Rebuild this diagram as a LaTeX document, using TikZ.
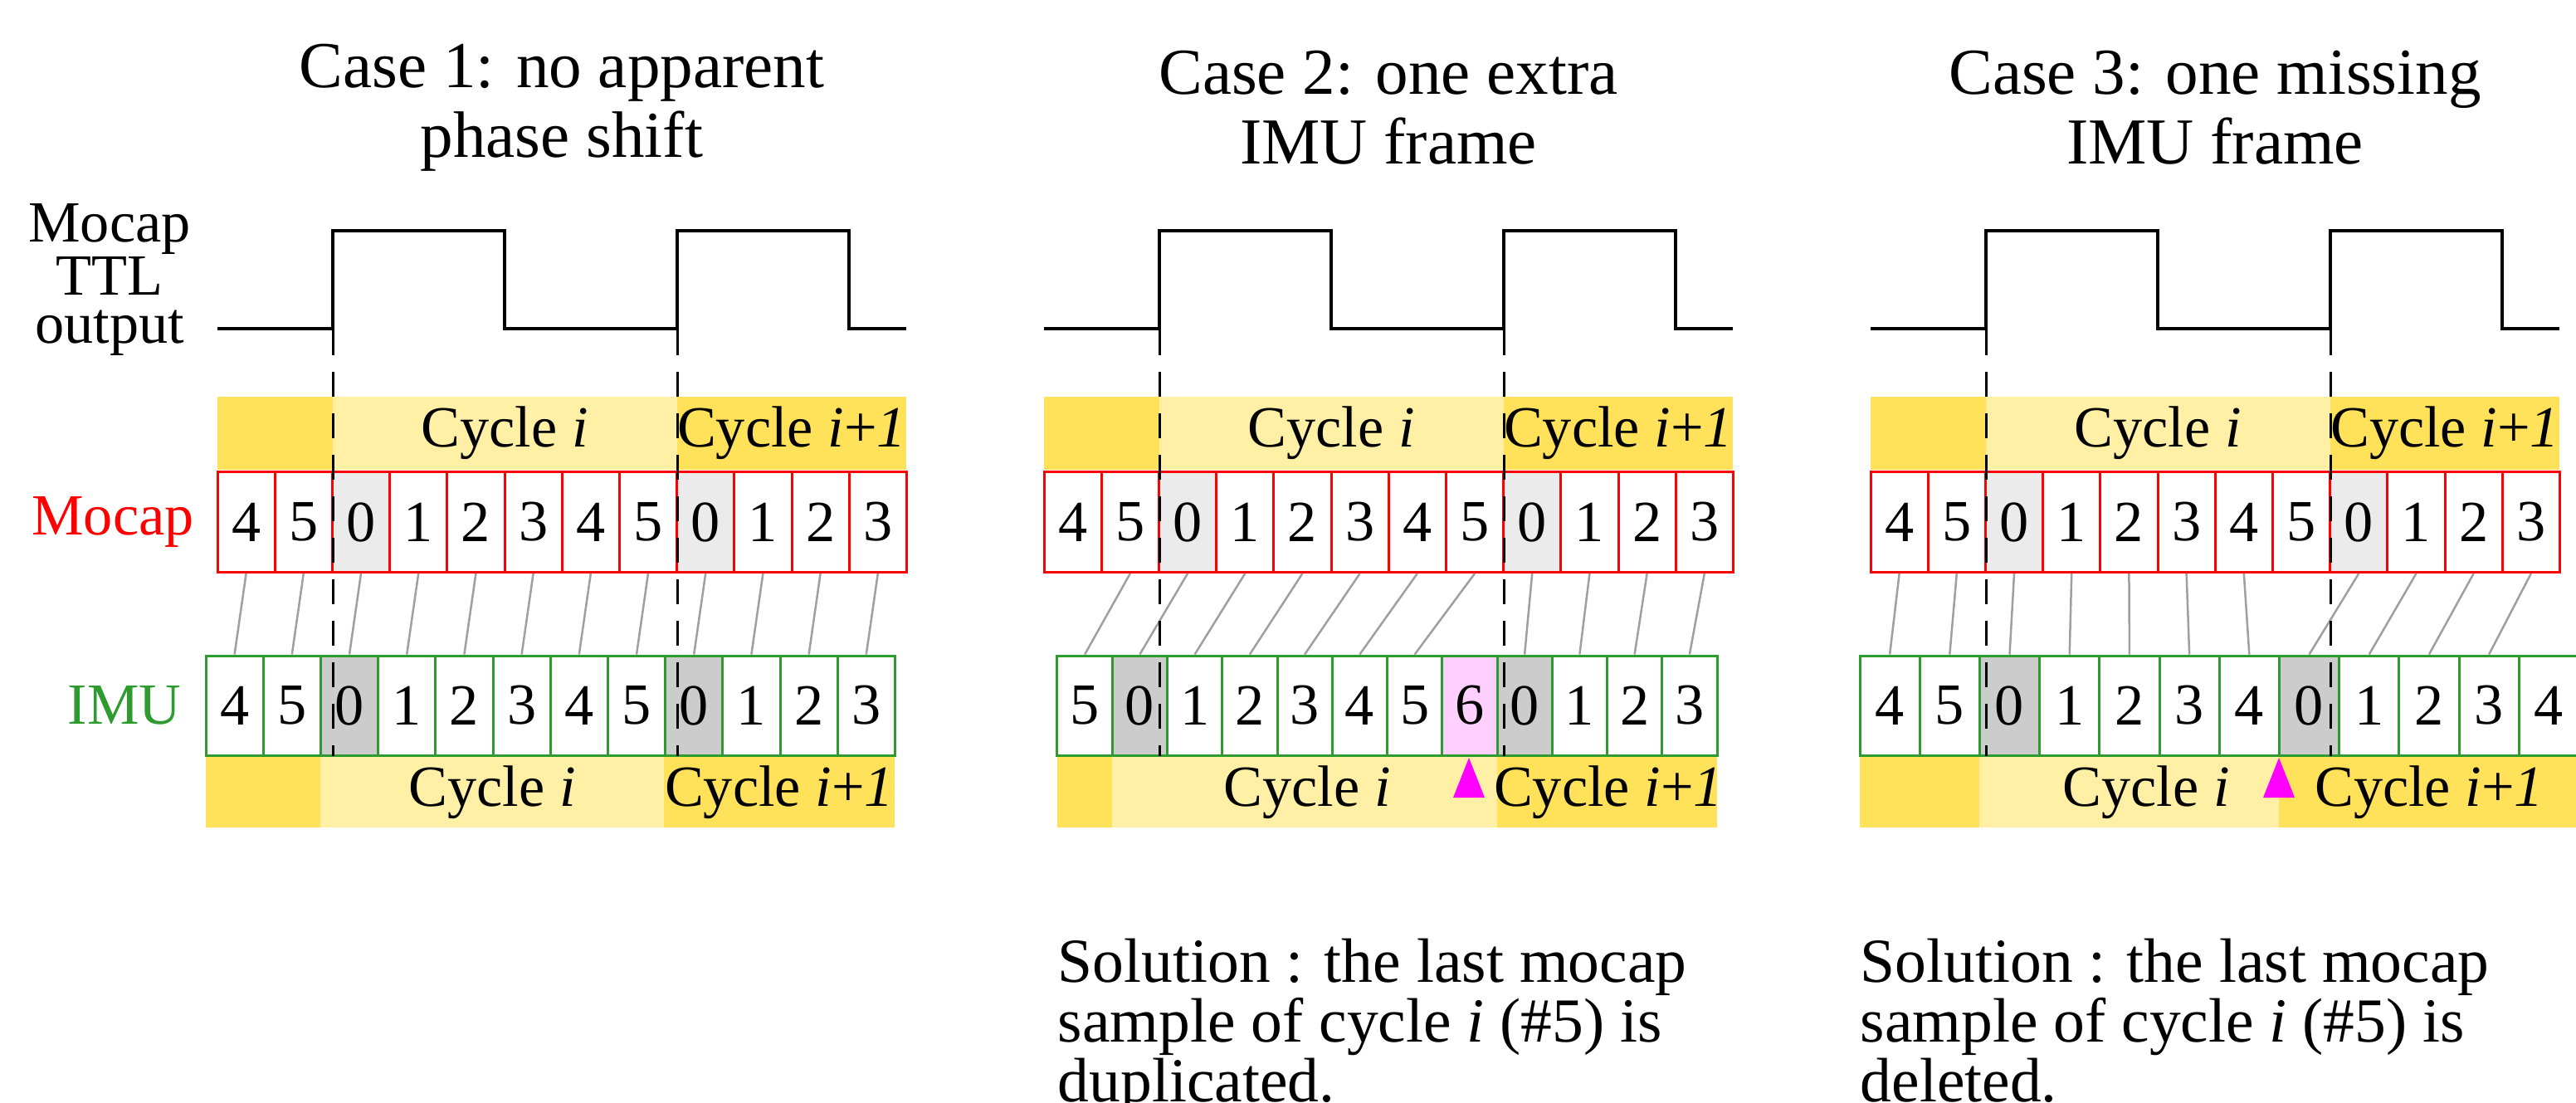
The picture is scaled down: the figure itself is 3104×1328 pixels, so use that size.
\documentclass[tikz,border=0pt]{standalone}
\usepackage{fontspec}
\setmainfont{Liberation Serif}
\definecolor{dy}{HTML}{FFE15A}
\definecolor{ly}{HTML}{FFF0A6}
\definecolor{mred}{HTML}{FF0000}
\definecolor{igreen}{HTML}{2E9B2E}
\definecolor{mg}{HTML}{EBEBEB}
\definecolor{ig}{HTML}{CCCCCC}
\definecolor{pk}{HTML}{FFD0FF}
\definecolor{mag}{HTML}{FF00FF}
\tikzset{
  fs/.style={font=\fontsize{20}{22}\selectfont},
  mcell/.style={draw=mred,line width=0.3mm,minimum width=6.92mm,minimum height=12.1mm,inner sep=0pt,fs},
  icell/.style={draw=igreen,line width=0.3mm,minimum height=12.0mm,inner sep=0pt,fs},
  link/.style={draw=gray!75,line width=0.25mm},
  ttldash/.style={line width=0.3mm,dash pattern=on 3mm off 2mm},
  sig/.style={line width=0.35mm,line join=miter},
  title/.style={font=\fontsize{22.5}{24}\selectfont,align=center},
  lab/.style={fs,inner sep=0pt},
  sol/.style={anchor=north west,align=left,inner sep=0pt,font=\fontsize{21.5}{20.5}\selectfont},
}
\newcommand{\cyc}{Cycle \textit{i}}
\newcommand{\cycn}{Cycle \textit{i}+\textit{1}}
\begin{document}
\begin{tikzpicture}[x=0.1mm,y=-0.1mm]
\useasboundingbox (0,0) rectangle (3104,1328);
\node[lab,align=center,font=\fontsize{20}{16.5}\selectfont] (ttl) at (132,337) {Mocap\\TTL\\output};
\node[lab,text=mred] (lm) at (136,629) {Mocap};
\node[lab,text=igreen] (li) at (150,850) {IMU};
\foreach \c/\xo in {1/262, 2/1258, 3/2254}{
  \draw[sig] (\xo,396) -- (\xo+139,396) -- (\xo+139,278) -- (\xo+346,278) -- (\xo+346,396)
     -- (\xo+554,396) -- (\xo+554,278) -- (\xo+761,278) -- (\xo+761,396) -- (\xo+830,396);
  \fill[dy] (\xo,478) rectangle (\xo+139,566);
  \fill[ly] (\xo+139,478) rectangle (\xo+554,566);
  \fill[dy] (\xo+554,478) rectangle (\xo+830,566);
  \node[lab] (tc\c) at (\xo+346,522) {\cyc};
  \node[lab] (tn\c) at (\xo+692,522) {\cycn};
}
\node[title] (t1) at (677,130) {Case 1: no apparent\\phase shift};
\node[title] (t2) at (1673,130) {Case 2: one extra\\IMU frame};
\node[title] (t3) at (2669,130) {Case 3: one missing\\IMU frame};
\fill[dy] (248,910) rectangle (386,997);
\fill[ly] (386,910) rectangle (800,997);
\fill[dy] (800,910) rectangle (1078,997);
\node[lab] (b1a) at (593,955) {\cyc};
\node[lab] (b1b) at (939,955) {\cycn};
\fill[dy] (1274,910) rectangle (1340,997);
\fill[ly] (1340,910) rectangle (1804,997);
\fill[dy] (1804,910) rectangle (2069,997);
\node[lab] (b2a) at (1575,955) {\cyc};
\node[lab] (b2b) at (1938,955) {\cycn};
\fill[dy] (2241,910) rectangle (2385,997);
\fill[ly] (2385,910) rectangle (2746,997);
\fill[dy] (2746,910) rectangle (3107,997);
\node[lab] (b3a) at (2586,955) {\cyc};
\node[lab] (b3b) at (2927,955) {\cycn};
\foreach \c/\xo in {1/262,2/1258,3/2254}{
  \foreach \v/\f [count=\i from 0] in {4/white,5/white,0/mg,1/white,2/white,3/white,4/white,5/white,0/mg,1/white,2/white,3/white}
    \node[mcell,fill=\f] (m\c-\i) at (\xo+34.6+69.2*\i,629) {\v};
}
\foreach \v/\f [count=\i from 0] in {4/white,5/white,0/ig,1/white,2/white,3/white,4/white,5/white,0/ig,1/white,2/white,3/white}
  \node[icell,fill=\f,minimum width=6.92mm] (i1-\i) at (248+34.6+69.2*\i,850) {\v};
\foreach \v/\f [count=\i from 0] in {5/white,0/ig,1/white,2/white,3/white,4/white,5/white,6/pk,0/ig,1/white,2/white,3/white}
  \node[icell,fill=\f,minimum width=6.625mm] (i2-\i) at (1274+33.1+66.25*\i,850) {\v};
\foreach \v/\f [count=\i from 0] in {4/white,5/white,0/ig,1/white,2/white,3/white,4/white,0/ig,1/white,2/white,3/white,4/white}
  \node[icell,fill=\f,minimum width=7.22mm] (i3-\i) at (2241+36.1+72.2*\i,850) {\v};
\foreach \i in {0,...,11} \draw[link] (m1-\i.south) -- (i1-\i.north);
\foreach \i in {0,...,6} {\pgfmathtruncatemacro{\j}{\i+1}\draw[link] (m2-\j.south) -- (i2-\i.north);}
\foreach \i in {8,...,11} \draw[link] (m2-\i.south) -- (i2-\i.north);
\foreach \i in {0,...,6} \draw[link] (m3-\i.south) -- (i3-\i.north);
\foreach \i in {8,...,11} {\pgfmathtruncatemacro{\j}{\i-1}\draw[link] (m3-\i.south) -- (i3-\j.north);}
\foreach \c/\xo in {1/262,2/1258,3/2254}{
  \coordinate (da\c) at (\xo+139,398);
  \coordinate (dA\c) at (\xo+139,911);
  \coordinate (db\c) at (\xo+554,398);
  \coordinate (dB\c) at (\xo+554,911);
  \draw[ttldash] (da\c) -- (dA\c);
  \draw[ttldash] (db\c) -- (dB\c);
}
\fill[mag] (1770,913) -- (1789,961) -- (1751,961) -- cycle;
\fill[mag] (2746,913) -- (2765,961) -- (2727,961) -- cycle;
\node[sol] (s2) at (1274,1130)
  {Solution : the last mocap\\sample of cycle \textit{i} (\#5) is\\duplicated.};
\node[sol] (s3) at (2241,1130)
  {Solution : the last mocap\\sample of cycle \textit{i} (\#5) is\\deleted.};
\end{tikzpicture}
\end{document}
